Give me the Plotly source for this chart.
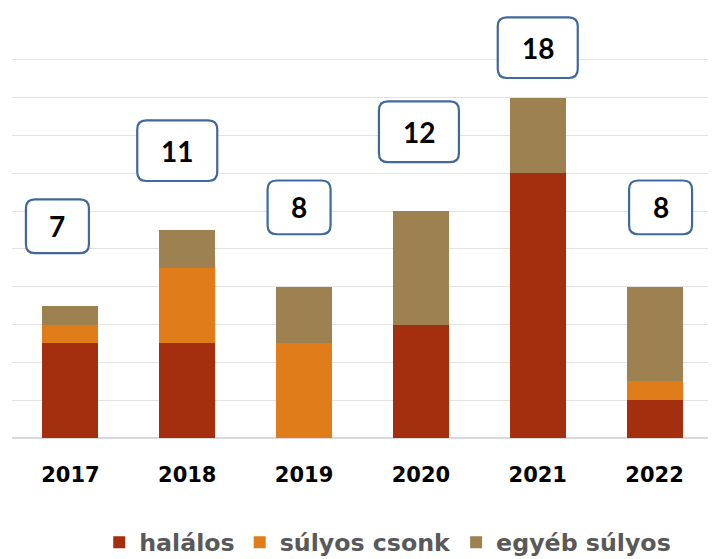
import plotly.graph_objects as go

years = ["2017", "2018", "2019", "2020", "2021", "2022"]
halalos = [5, 5, 0, 6, 14, 2]
sulyos_csonk = [1, 4, 5, 0, 0, 1]
egyeb_sulyos = [1, 2, 3, 6, 4, 5]
totals = [7, 11, 8, 12, 18, 8]

names = ["halálos", "súlyos csonk", "egyéb súlyos"]
colors = ["#A32F0F", "#E07C1A", "#9E8150"]

# page body has an 8px margin; figure sized so the plot lands where the reference has it
W, H = 708, 559
ml, mr, mt, mb = 4, 3, 16, 127
y_max = 21.9
x_min, x_max = -0.5, 5.5
box_nudge_px = [-13, -10, -5, -2, 0, 6]   # horizontal nudge of each label box

fig = go.Figure()
xs = list(range(len(years)))
for vals, name, col in zip([halalos, sulyos_csonk, egyeb_sulyos], names, colors):
    fig.add_trace(go.Bar(x=xs, y=vals, name=name, marker_color=col,
                         marker_line_width=0, width=0.48))

pw = W - ml - mr
ph = H - mt - mb
def px_x(v):
    return (v - x_min) / (x_max - x_min)
def px_y(v):
    return v / y_max

shapes = []
annots = []
r = 9
for i, t in enumerate(totals):
    cy = min(t + 4.2, 20.65)
    label = str(t)
    hw = (63 if len(label) == 1 else 80) / 2
    hh = (54 if len(label) == 1 else 61) / 2
    cxp = px_x(i) + box_nudge_px[i] / pw
    cyp = px_y(cy)
    dx, dy = hw / pw, hh / ph
    rx, ry = r / pw, r / ph
    x0, x1 = cxp - dx, cxp + dx
    y0, y1 = cyp - dy, cyp + dy
    path = (f"M {x0+rx},{y0} L {x1-rx},{y0} Q {x1},{y0} {x1},{y0+ry} "
            f"L {x1},{y1-ry} Q {x1},{y1} {x1-rx},{y1} L {x0+rx},{y1} "
            f"Q {x0},{y1} {x0},{y1-ry} L {x0},{y0+ry} Q {x0},{y0} {x0+rx},{y0} Z")
    shapes.append(dict(type="path", xref="paper", yref="paper", path=path,
                       fillcolor="white", line=dict(color="#41689C", width=2.2),
                       layer="above"))
    annots.append(dict(x=cxp, y=cyp, xref="paper", yref="paper", text=label,
                       showarrow=False,
                       font=dict(family="Lato", size=28, color="black", weight="bold"),
                       xanchor="center", yanchor="middle"))

fig.update_layout(
    barmode="stack",
    width=W, height=H,
    margin=dict(l=ml, r=mr, t=mt, b=mb),
    plot_bgcolor="white", paper_bgcolor="white",
    shapes=shapes, annotations=annots,
    showlegend=True,
    legend=dict(orientation="h", x=0.536, xanchor="center", y=-0.252, yanchor="middle",
                font=dict(family="DejaVu Sans", size=23.7, color="#595959", weight="bold"),
                itemwidth=30, traceorder="normal"),
)
fig.update_xaxes(range=[x_min, x_max], tickmode="array", tickvals=xs, ticktext=years,
                 showgrid=False, zeroline=False, showline=False,
                 tickfont=dict(family="DejaVu Sans", size=21, color="black", weight="bold"),
                 ticklabelstandoff=22, ticks="")
fig.update_yaxes(range=[0, y_max], dtick=2, showticklabels=False, showgrid=True,
                 gridcolor="#E3E3E3", gridwidth=1, zeroline=True, zerolinecolor="#D9D9D9",
                 zerolinewidth=1.5)

fig.write_html("out.html")
